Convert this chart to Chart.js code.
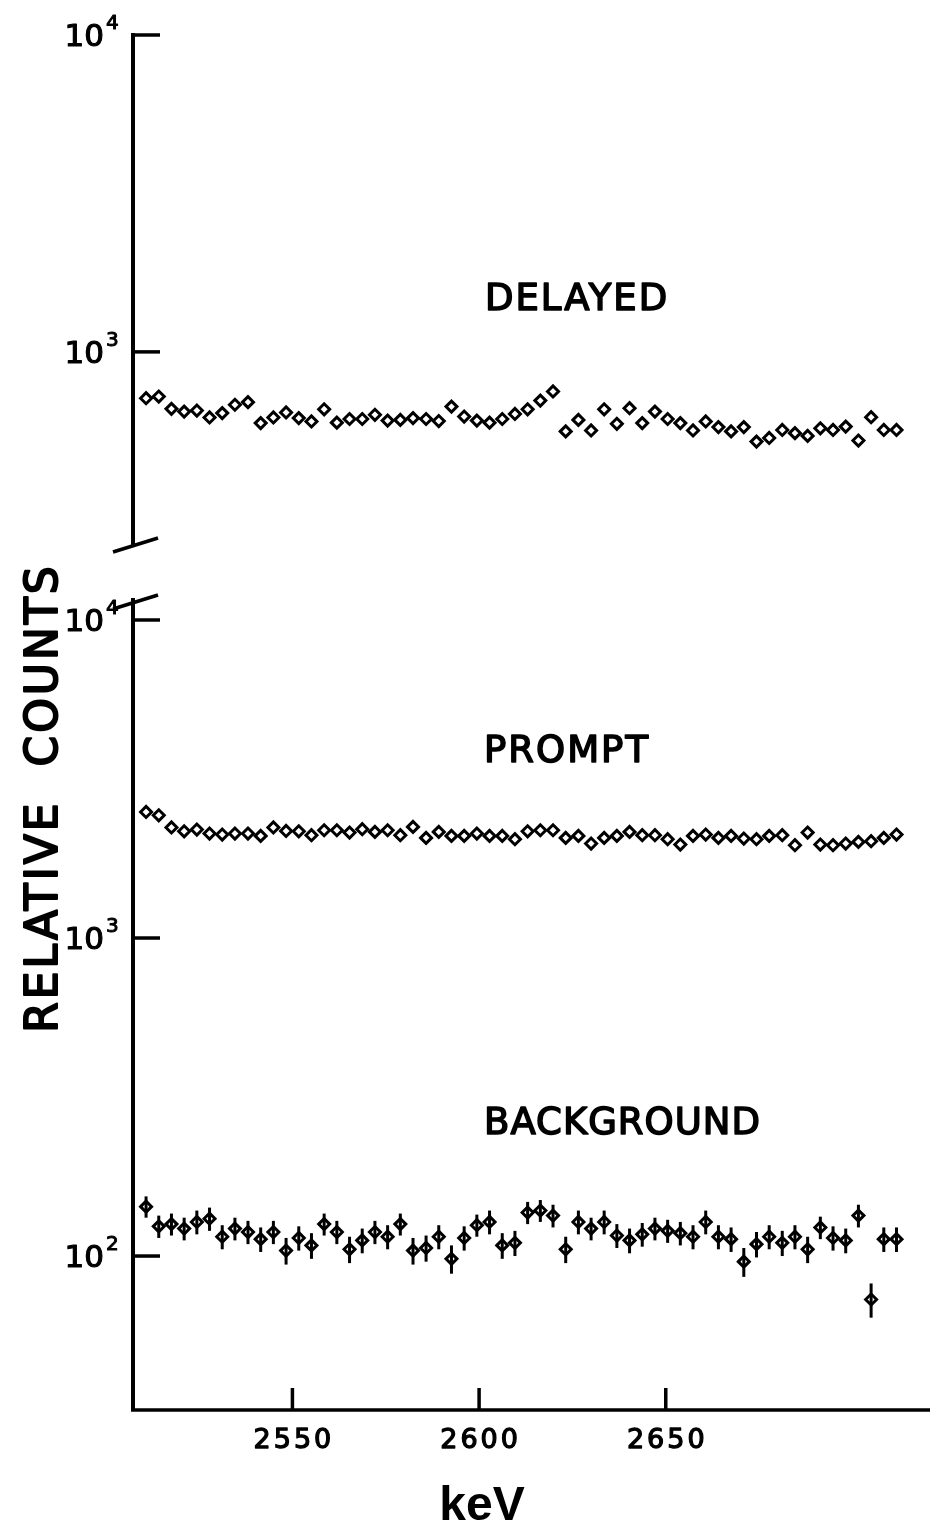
<!DOCTYPE html>
<html>
<head>
<meta charset="utf-8">
<title>Relative counts vs keV</title>
<script src="https://cdn.jsdelivr.net/npm/chart.js"></script>
<style>
  html, body { margin: 0; padding: 0; background: #fff; }
  #wrap { position: relative; width: 933px; height: 1525px; overflow: hidden; }
  #wrap canvas { position: absolute; left: 0; top: 0; }
</style>
</head>
<body>
<div id="wrap">
  <canvas id="bottomChart" width="933" height="1525"></canvas>
  <canvas id="topChart" width="933" height="1525"></canvas>
</div>
<script>
// --- data (keV, relative counts) ---
const energies = [
  2510.8, 2514.2, 2517.6, 2521.0, 2524.4, 2527.8, 2531.2, 2534.6, 2538.1, 2541.5,
  2544.9, 2548.3, 2551.7, 2555.1, 2558.5, 2561.9, 2565.3, 2568.7, 2572.1, 2575.5,
  2578.9, 2582.3, 2585.8, 2589.2, 2592.6, 2596.0, 2599.4, 2602.8, 2606.2, 2609.6,
  2613.0, 2616.4, 2619.8, 2623.2, 2626.6, 2630.0, 2633.5, 2636.9, 2640.3, 2643.7,
  2647.1, 2650.5, 2653.9, 2657.3, 2660.7, 2664.1, 2667.5, 2670.9, 2674.3, 2677.7,
  2681.2, 2684.6, 2688.0, 2691.4, 2694.8, 2698.2, 2701.6, 2705.0, 2708.4, 2711.8
];
const delayedCounts = [
  714, 723, 661, 648, 653, 621, 641, 681, 694, 596,
  621, 644, 618, 603, 659, 598, 614, 614, 633, 607,
  610, 618, 614, 605, 672, 625, 607, 598, 614, 637,
  659, 702, 750, 561, 610, 565, 659, 593, 664, 596,
  648, 614, 596, 565, 603, 579, 561, 579, 521, 535,
  567, 554, 543, 574, 567, 581, 525, 622, 567, 567
];
const promptCounts = [
  2491, 2432, 2226, 2166, 2193, 2131, 2115, 2131, 2131, 2094,
  2226, 2171, 2166, 2105, 2182, 2182, 2146, 2198, 2156, 2182,
  2105, 2235, 2064, 2156, 2094, 2094, 2131, 2094, 2094, 2045,
  2166, 2182, 2182, 2064, 2094, 1982, 2064, 2094, 2156, 2105,
  2105, 2045, 1968, 2094, 2115, 2064, 2094, 2055, 2045, 2094,
  2105, 1958, 2146, 1968, 1958, 1982, 2005, 2015, 2064, 2115
];
const backgroundCounts = [
  143, 124, 126, 122, 128, 131, 115, 122, 119, 113,
  119, 104, 114, 108, 126, 119, 105, 112, 119, 115,
  126, 104, 106, 115, 98, 114, 125, 128, 108, 110,
  137, 139, 134, 105, 128, 122, 128, 116, 112, 117,
  122, 120, 118, 115, 128, 115, 113, 96, 109, 115,
  110, 115, 105, 123, 114, 112, 134, 73, 113, 113
];
const backgroundErr = [
  11, 10, 10, 10, 11, 11, 10, 10, 10, 10,
  10, 10, 10, 10, 10, 10, 10, 10, 10, 10,
  10, 10, 10, 10, 10, 10, 10, 11, 10, 10,
  11, 11, 11, 10, 11, 10, 11, 10, 10, 10,
  10, 10, 10, 10, 11, 10, 10, 10, 10, 10,
  10, 10, 10, 10, 10, 10, 11, 9, 10, 10
];
const xTickValues = [2550, 2600, 2650];
const topDecades = [3, 4];
const bottomDecades = [2, 3, 4];

const FONT = '"DejaVu Sans", "Liberation Sans", sans-serif';
const X_MIN = 2507.3, X_MAX = 2719.3;

function toPoints(values) {
    return energies.map((e, i) => ({ x: e, y: values[i] }));
}

function line(ctx, x1, y1, x2, y2) {
    ctx.beginPath();
    ctx.moveTo(x1, y1);
    ctx.lineTo(x2, y2);
    ctx.stroke();
}

// lettering in the scan is heavy, so fill and then outline a little
function heavyText(ctx, text, x, y, weight) {
    ctx.fillText(text, x, y);
    ctx.lineWidth = weight;
    ctx.strokeStyle = '#000';
    ctx.lineJoin = 'round';
    ctx.strokeText(text, x, y);
}

// "10" with a raised exponent, left of the y axis
function drawPowerLabel(ctx, exp, y) {
    ctx.save();
    ctx.fillStyle = '#000';
    ctx.textBaseline = 'alphabetic';
    ctx.font = '31px ' + FONT;
    ctx.textAlign = 'right';
    heavyText(ctx, '10', 104, y + 11, 1.2);
    ctx.font = '20px ' + FONT;
    ctx.textAlign = 'left';
    heavyText(ctx, String(exp), 106, y - 6, 1);
    ctx.restore();
}

function drawLabel(ctx, text, x, y, size, spacing) {
    ctx.save();
    ctx.fillStyle = '#000';
    ctx.font = size + 'px ' + FONT;
    ctx.letterSpacing = spacing + 'px';
    ctx.textAlign = 'left';
    ctx.textBaseline = 'alphabetic';
    heavyText(ctx, text, x, y, 1.6);
    ctx.restore();
}

function drawYAxis(chart, decades) {
    const { ctx, chartArea, scales } = chart;
    ctx.save();
    ctx.strokeStyle = '#000';
    ctx.lineWidth = 4;
    line(ctx, chartArea.left, chartArea.top - 2, chartArea.left, chartArea.bottom);
    ctx.lineWidth = 3.5;
    decades.forEach(exp => {
        const y = scales.y.getPixelForValue(Math.pow(10, exp));
        line(ctx, chartArea.left - 2, y, chartArea.left + 27, y);
        drawPowerLabel(ctx, exp, y);
    });
    ctx.restore();
}

const markerStyle = {
    showLine: false,
    pointStyle: 'rectRot',
    pointRadius: 5.5,
    pointBorderWidth: 3,
    pointBorderColor: '#000',
    pointBackgroundColor: '#fff'
};

const baseOptions = (padding, yMin, yMax) => ({
    responsive: false,
    animation: false,
    events: [],
    layout: { padding: padding },
    plugins: { legend: { display: false }, tooltip: { enabled: false } },
    scales: {
        x: { type: 'linear', min: X_MIN, max: X_MAX, display: false },
        y: { type: 'logarithmic', min: yMin, max: yMax, display: false, bounds: 'data' }
    }
});

// --- top panel: delayed ---
const topPanelPlugin = {
    id: 'topPanel',
    afterDraw(chart) {
        const { ctx, chartArea } = chart;
        drawYAxis(chart, topDecades);
        ctx.save();
        ctx.strokeStyle = '#000';
        ctx.lineWidth = 3.5;
        // axis break mark
        line(ctx, chartArea.left - 20, chartArea.bottom + 6, chartArea.left + 25, chartArea.bottom - 8);
        ctx.restore();
        drawLabel(ctx, 'DELAYED', 485, 310, 37, 2);
    }
};

new Chart(document.getElementById('topChart'), {
    type: 'scatter',
    data: {
        datasets: [Object.assign({ label: 'Delayed', data: toPoints(delayedCounts) }, markerStyle)]
    },
    options: baseOptions({ left: 133, right: 3, top: 35, bottom: 979 }, 244, 10000),
    plugins: [topPanelPlugin]
});

// --- bottom panel: prompt + background ---
const bottomPanelPlugin = {
    id: 'bottomPanel',
    afterDatasetsDraw(chart) {
        const { ctx, scales } = chart;
        ctx.save();
        ctx.strokeStyle = '#000';
        ctx.lineWidth = 3;
        backgroundCounts.forEach((v, i) => {
            const x = scales.x.getPixelForValue(energies[i]);
            const yTop = scales.y.getPixelForValue(v + backgroundErr[i]);
            const yBot = scales.y.getPixelForValue(v - backgroundErr[i]);
            line(ctx, x, yTop, x, yBot);
        });
        ctx.restore();
    },
    afterDraw(chart) {
        const { ctx, chartArea, scales } = chart;
        drawYAxis(chart, bottomDecades);
        ctx.save();
        ctx.strokeStyle = '#000';
        ctx.lineWidth = 3.5;
        line(ctx, chartArea.left - 20, chartArea.top + 9, chartArea.left + 25, chartArea.top - 5);
        // x axis with inward ticks
        line(ctx, chartArea.left - 2, chartArea.bottom, 930, chartArea.bottom);
        ctx.fillStyle = '#000';
        ctx.font = '27px ' + FONT;
        ctx.letterSpacing = '3px';
        ctx.textAlign = 'center';
        ctx.textBaseline = 'alphabetic';
        xTickValues.forEach(v => {
            const x = scales.x.getPixelForValue(v);
            ctx.lineWidth = 3.5;
            line(ctx, x, chartArea.bottom, x, chartArea.bottom - 22);
            heavyText(ctx, String(v), x + 1.5, chartArea.bottom + 38, 1.3);
        });
        ctx.letterSpacing = '0px';
        ctx.font = 'bold 48px "Liberation Sans", ' + FONT;
        ctx.fillText('keV', 482, 1520);
        // vertical axis title
        ctx.translate(57, 798);
        ctx.rotate(-Math.PI / 2);
        ctx.font = '44px ' + FONT;
        ctx.letterSpacing = '3px';
        heavyText(ctx, 'RELATIVE  COUNTS', 0, 0, 2);
        ctx.restore();
        drawLabel(ctx, 'PROMPT', 484, 762, 37, 2);
        drawLabel(ctx, 'BACKGROUND', 484, 1134, 37, 1);
    }
};

new Chart(document.getElementById('bottomChart'), {
    type: 'scatter',
    data: {
        datasets: [
            Object.assign({ label: 'Prompt', data: toPoints(promptCounts) }, markerStyle),
            Object.assign({ label: 'Background', data: toPoints(backgroundCounts) }, markerStyle)
        ]
    },
    options: baseOptions({ left: 133, right: 3, top: 600, bottom: 115 }, 32.8, 11557),
    plugins: [bottomPanelPlugin]
});
</script>
</body>
</html>
